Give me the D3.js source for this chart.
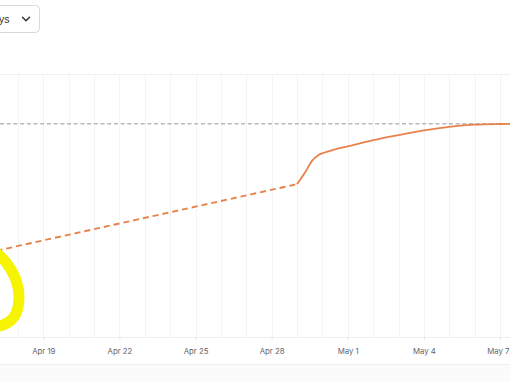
<!DOCTYPE html>
<html>
<head>
<meta charset="utf-8">
<script src="https://cdn.jsdelivr.net/npm/d3@7"></script>
<style>
  html, body { margin: 0; padding: 0; background: #fff; overflow: hidden; }
  svg { display: block; font-family: "Liberation Sans", Arial, sans-serif; }
</style>
</head>
<body>
<svg id="chart" width="510" height="382"></svg>
<script>
// ---- data ----
const dropdownLabel = "Last 7 days";
const tickDates = ["2024-04-19", "2024-04-22", "2024-04-25", "2024-04-28", "2024-05-01", "2024-05-04", "2024-05-07"];
const gridDates = ["2024-04-16","2024-04-17","2024-04-18","2024-04-19","2024-04-20","2024-04-21","2024-04-22","2024-04-23","2024-04-24","2024-04-25","2024-04-26","2024-04-27","2024-04-28","2024-04-29","2024-04-30","2024-05-01","2024-05-02","2024-05-03","2024-05-04","2024-05-05","2024-05-06","2024-05-07","2024-05-08"];
const goalValue = 100;
// dashed (gap / projected) segment
const gapTimes = ["2024-04-16T00:00", "2024-04-29T00:00"];
const gapValues = [37.4, 71.7];
// solid actual series
const actualTimes = ["2024-04-29T00:00","2024-04-29T08:00","2024-04-29T14:00","2024-04-29T20:00","2024-04-30T00:00","2024-04-30T12:00","2024-05-01T00:00","2024-05-02T00:00","2024-05-03T00:00","2024-05-04T00:00","2024-05-05T00:00","2024-05-06T00:00","2024-05-07T00:00","2024-05-08T00:00"];
const actualValues = [71.7, 77.5, 82.5, 85.3, 86.2, 88.0, 89.4, 92.3, 94.7, 96.9, 98.6, 99.6, 99.9, 100];

// ---- drawing ----
const W = 510, H = 382;
const svg = d3.select("#chart");
const parse = s => new Date(s + (s.length === 10 ? "T00:00:00Z" : ":00Z"));

const plotTop = 75, plotBottom = 337;
const x = d3.scaleUtc()
  .domain([parse("2024-04-19"), parse("2024-05-07")])
  .range([43.3, 500]);
const y = d3.scaleLinear().domain([0, 100]).range([plotBottom, 123.8]);

// bottom footer band
svg.append("rect").attr("x", 0).attr("y", 364).attr("width", W).attr("height", H - 364).attr("fill", "#fbfbfc");
svg.append("line").attr("x1", 0).attr("x2", W).attr("y1", 364.5).attr("y2", 364.5).attr("stroke", "#f0eff2");

// top separator
svg.append("line").attr("x1", 0).attr("x2", W).attr("y1", 74.5).attr("y2", 74.5).attr("stroke", "#f0eff2");

// dropdown
const dd = svg.append("g");
dd.append("rect").attr("x", -30).attr("y", 5.5).attr("width", 69.5).attr("height", 27).attr("rx", 4)
  .attr("fill", "#fff").attr("stroke", "#d8d8dc");
dd.append("text").attr("x", 9.5).attr("y", 23).attr("text-anchor", "end")
  .attr("font-size", 10.5).attr("fill", "#333").text(dropdownLabel);
dd.append("path").attr("d", "M22.5,17.3 L26,20.8 L29.5,17.3").attr("fill", "none")
  .attr("stroke", "#333").attr("stroke-width", 1.5).attr("stroke-linecap", "round").attr("stroke-linejoin", "round");

// vertical grid lines
svg.append("g").selectAll("line").data(gridDates.map(parse)).join("line")
  .attr("x1", d => Math.round(x(d)) + 0.5).attr("x2", d => Math.round(x(d)) + 0.5)
  .attr("y1", plotTop).attr("y2", plotBottom)
  .attr("stroke", "#f4f3f6").attr("stroke-width", 1);

// x axis
const xAxis = d3.axisBottom(x)
  .tickValues(tickDates.map(parse))
  .tickFormat(d3.utcFormat("%b %-d"))
  .tickSize(3).tickPadding(8);
const ax = svg.append("g").attr("transform", `translate(0,${plotBottom})`).call(xAxis);
ax.select(".domain").attr("d", `M0,0.5H${W}`).attr("stroke", "#eeedf1");
ax.selectAll(".tick line").attr("stroke", "#e4e3e8");
ax.selectAll(".tick text").attr("fill", "#66666c").attr("font-size", 7.8).attr("font-family", "Inter, 'Liberation Sans', sans-serif");
// keep the last label inside the frame
ax.selectAll(".tick").each(function(d) {
  const t = d3.select(this).select("text");
  const bb = t.node().getBBox();
  const right = x(d) + bb.x + bb.width;
  if (right > W - 0.5) t.attr("dx", (W - 0.5 - right) + "px");
});

// goal line
svg.append("line").attr("x1", 0).attr("x2", W)
  .attr("y1", y(goalValue)).attr("y2", y(goalValue))
  .attr("stroke", "#b9b8bd").attr("stroke-width", 1.4).attr("stroke-dasharray", "4,2.7");

const orange = "#e8824c";
const lineGen = d3.line().x(d => x(d.t)).y(d => y(d.v));

// dashed gap segment
const gapData = gapTimes.map((t, i) => ({ t: parse(t), v: gapValues[i] }));
svg.append("path").datum(gapData).attr("d", lineGen)
  .attr("fill", "none").attr("stroke", orange).attr("stroke-width", 1.9).attr("stroke-dasharray", "6,4");

// solid actual
const actualData = actualTimes.map((t, i) => ({ t: parse(t), v: actualValues[i] }));
svg.append("path").datum(actualData).attr("d", lineGen.curve(d3.curveMonotoneX))
  .attr("fill", "none").attr("stroke", orange).attr("stroke-width", 1.8);

// yellow hand-drawn highlight
svg.append("path")
  .attr("d", "M-6,251 C8,261 19,279 19,297 C19,315 12,325 -6,327")
  .attr("fill", "none").attr("stroke", "#f6f400").attr("stroke-width", 11)
  .attr("stroke-linecap", "round").attr("stroke-linejoin", "round");
</script>
</body>
</html>
